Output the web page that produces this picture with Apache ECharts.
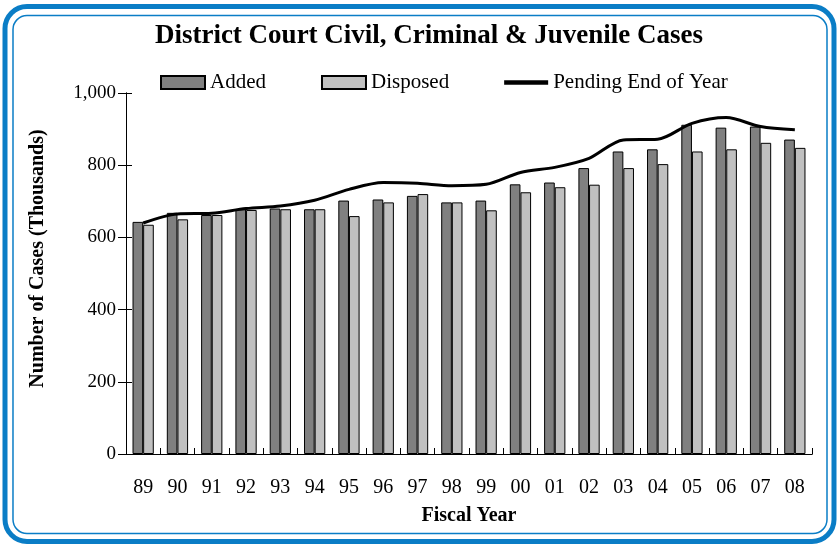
<!DOCTYPE html>
<html>
<head>
<meta charset="utf-8">
<script src="https://cdn.jsdelivr.net/npm/echarts@6/dist/echarts.min.js"></script>
<style>
  html, body { margin: 0; padding: 0; background: #fff; }
  #chart { width: 837px; height: 544px; }
</style>
</head>
<body>
<div id="chart"></div>
<script>
'use strict';

// fiscal years and case counts (thousands)
const years = ['89', '90', '91', '92', '93', '94', '95', '96', '97', '98',
               '99', '00', '01', '02', '03', '04', '05', '06', '07', '08'];
const added = [643, 668, 662, 678, 680, 678, 702, 705, 715, 697,
               702, 747, 752, 792, 838, 844, 912, 904, 907, 871];
const disposed = [635, 650, 662, 676, 678, 678, 659, 697, 720, 697,
                  675, 725, 739, 746, 792, 803, 838, 844, 862, 848];
const pending = [640, 665, 667, 680, 687, 703, 733, 752, 750, 743,
                 747, 780, 794, 819, 870, 872, 916, 932, 907, 898];

const serif = '"Liberation Serif", "Times New Roman", serif';
const blue = '#0a7dc6';

const chart = echarts.init(document.getElementById('chart'), null, { renderer: 'canvas' });

chart.setOption({
  animation: false,
  backgroundColor: '#fff',
  title: {
    text: 'District Court Civil, Criminal & Juvenile Cases',
    left: 424,
    textAlign: 'center',
    top: 18,
    textStyle: { fontFamily: serif, fontWeight: 'bold', fontSize: 27, color: '#000' }
  },
  legend: {
    left: 160,
    top: 72,
    padding: 0,
    itemWidth: 44,
    itemHeight: 13,
    itemGap: 55,
    textStyle: { fontFamily: serif, fontSize: 21, color: '#000' },
    data: [
      { name: 'Added', icon: 'rect' },
      { name: 'Disposed', icon: 'rect' },
      { name: 'Pending End of Year', icon: 'path://M0,0 H10 V1 H0 Z' }
    ]
  },
  grid: { left: 126, right: 25, top: 93, bottom: 90 },
  xAxis: [{
    type: 'category',
    data: years,
    axisLine: { lineStyle: { color: '#000', width: 1 } },
    axisTick: { length: 8, lineStyle: { color: '#000' } },
    axisLabel: { fontFamily: serif, fontSize: 20, color: '#000', margin: 24 },
    name: 'Fiscal Year',
    nameLocation: 'middle',
    nameGap: 52,
    nameTextStyle: { fontFamily: serif, fontWeight: 'bold', fontSize: 20, color: '#000' }
  }, {
    // twin axis only to give the ticks their short upper half
    type: 'category',
    data: years,
    position: 'bottom',
    axisLine: { show: true, lineStyle: { color: '#000', width: 1 } },
    axisTick: { show: true, inside: true, length: 6, lineStyle: { color: '#000' } },
    axisLabel: { show: false }
  }],
  yAxis: [{
    type: 'value',
    min: 0,
    max: 1000,
    interval: 200,
    splitLine: { show: false },
    axisLine: { show: true, lineStyle: { color: '#000', width: 1 } },
    axisTick: { show: true, length: 8, lineStyle: { color: '#000' } },
    axisLabel: {
      fontFamily: serif, fontSize: 19, color: '#000', margin: 10,
      formatter: v => v.toLocaleString('en-US')
    },
    name: 'Number of Cases (Thousands)',
    nameLocation: 'middle',
    nameGap: 78,
    nameTextStyle: {
      fontFamily: serif, fontWeight: 'bold', fontSize: 20, color: '#000',
      padding: [0, 0, 0, 30]
    }
  }, {
    type: 'value',
    min: 0,
    max: 1000,
    interval: 200,
    position: 'left',
    splitLine: { show: false },
    axisLine: { show: true, lineStyle: { color: '#000', width: 1 } },
    axisTick: { show: true, inside: true, length: 6, lineStyle: { color: '#000' } },
    axisLabel: { show: false }
  }],
  series: [
    {
      name: 'Added',
      type: 'bar',
      data: added,
      barGap: '0%',
      barCategoryGap: '38%',
      itemStyle: { color: '#808080', borderColor: '#000', borderWidth: 1 }
    },
    {
      name: 'Disposed',
      type: 'bar',
      data: disposed,
      itemStyle: { color: '#c0c0c0', borderColor: '#000', borderWidth: 1 }
    },
    {
      name: 'Pending End of Year',
      type: 'line',
      data: pending,
      smooth: 0.3,
      showSymbol: false,
      symbol: 'none',
      z: 5,
      lineStyle: { color: '#000', width: 3 },
      itemStyle: { color: '#000' }
    }
  ],
  graphic: [
    {
      type: 'rect',
      shape: { x: 5, y: 6.5, width: 829, height: 535, r: 22 },
      style: { fill: 'none', stroke: blue, lineWidth: 5 },
      silent: true
    },
    {
      type: 'rect',
      shape: { x: 13, y: 15.5, width: 814, height: 518, r: 14 },
      style: { fill: 'none', stroke: blue, lineWidth: 1.5 },
      silent: true
    }
  ]
});
</script>
</body>
</html>
